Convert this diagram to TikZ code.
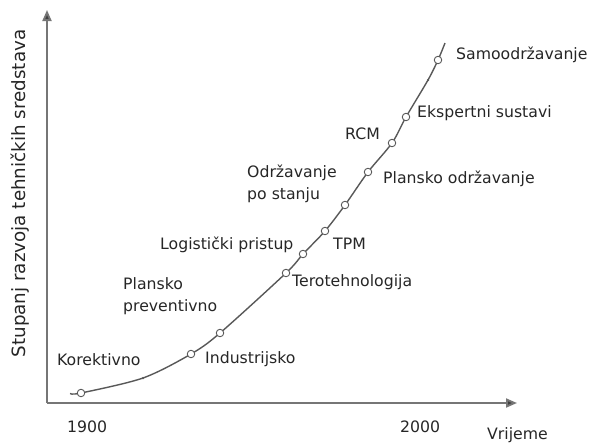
\documentclass[tikz,border=0pt]{standalone}
\usepackage{fontspec}
\setmainfont{DejaVu Sans}
\usetikzlibrary{arrows.meta}
\definecolor{txt}{HTML}{262626}
\definecolor{axc}{HTML}{767676}
\definecolor{crv}{HTML}{585858}
\tikzset{
  lbl/.style={font=\fontsize{15.7}{22}\selectfont, text=txt, inner sep=0pt, anchor=mid west, align=left},
  pt/.style={circle, draw=crv, fill=white, line width=0.9pt, minimum size=7.5pt, inner sep=0pt},
  dotm/.style={circle, fill=crv, minimum size=2.5pt, inner sep=0pt},
  axis/.style={draw=axc, line width=1.9pt, -{Triangle[length=11pt,width=9pt,fill=black!75]}},
}
\begin{document}
\begin{tikzpicture}[x=1pt,y=-1pt]
\useasboundingbox (0,0) rectangle (593,445);
% axes
\coordinate (O) at (47,403);
\coordinate (Ytop) at (47,10);
\coordinate (Xend) at (517,403);
\draw[axis] (O) -- (Ytop);
\draw[axis] (O) -- (Xend);
% curve points
\coordinate (s) at (70,393.5);
\coordinate (p0) at (81,393);
\coordinate (d1) at (143,378);
\coordinate (p1) at (191,354);
\coordinate (p2) at (220,333);
\coordinate (p3) at (286,273);
\coordinate (p4) at (303,254);
\coordinate (p5) at (325,231);
\coordinate (p6) at (345,205);
\coordinate (p7) at (368,172);
\coordinate (p8) at (392,143);
\coordinate (p9) at (406,117);
\coordinate (d2) at (428,80);
\coordinate (p10) at (438,60);
\coordinate (e) at (445,43);
\draw[crv, line width=1.4pt] plot[smooth, tension=0.5] coordinates {(s) (p0) (d1) (p1) (p2) (p3) (p4) (p5) (p6) (p7) (p8) (p9) (d2) (p10) (e)};
\foreach \i in {0,...,10} { \node[pt] (c\i) at (p\i) {}; }
\node[dotm] (m1) at (d1) {};
\node[dotm] (m2) at (d2) {};
% labels
\node[lbl] (l0) at (57,363) {Korektivno};
\node[lbl] (l1) at (205,361) {Industrijsko};
\node[lbl] (l2) at (123,308.5) {Plansko\\preventivno};
\node[lbl] (l3) at (292,284) {Terotehnologija};
\node[lbl] (l4) at (160,247) {Logistički pristup};
\node[lbl] (l5) at (333,247) {TPM};
\node[lbl] (l6) at (247,196.5) {Održavanje\\po stanju};
\node[lbl] (l7) at (383,181) {Plansko održavanje};
\node[lbl] (l8) at (345,137) {RCM};
\node[lbl] (l9) at (417,115) {Ekspertni sustavi};
\node[lbl] (l10) at (456,57) {Samoodržavanje};
% axis labels
\node[lbl] (t1) at (67,430) {1900};
\node[lbl] (t2) at (400,430) {2000};
\node[lbl] (xl) at (487,437) {Vrijeme};
\node[lbl, font=\fontsize{18.3}{22}\selectfont, anchor=center, rotate=90] (yl) at (20,193.5) {Stupanj razvoja tehničkih sredstava};
\end{tikzpicture}
\end{document}
